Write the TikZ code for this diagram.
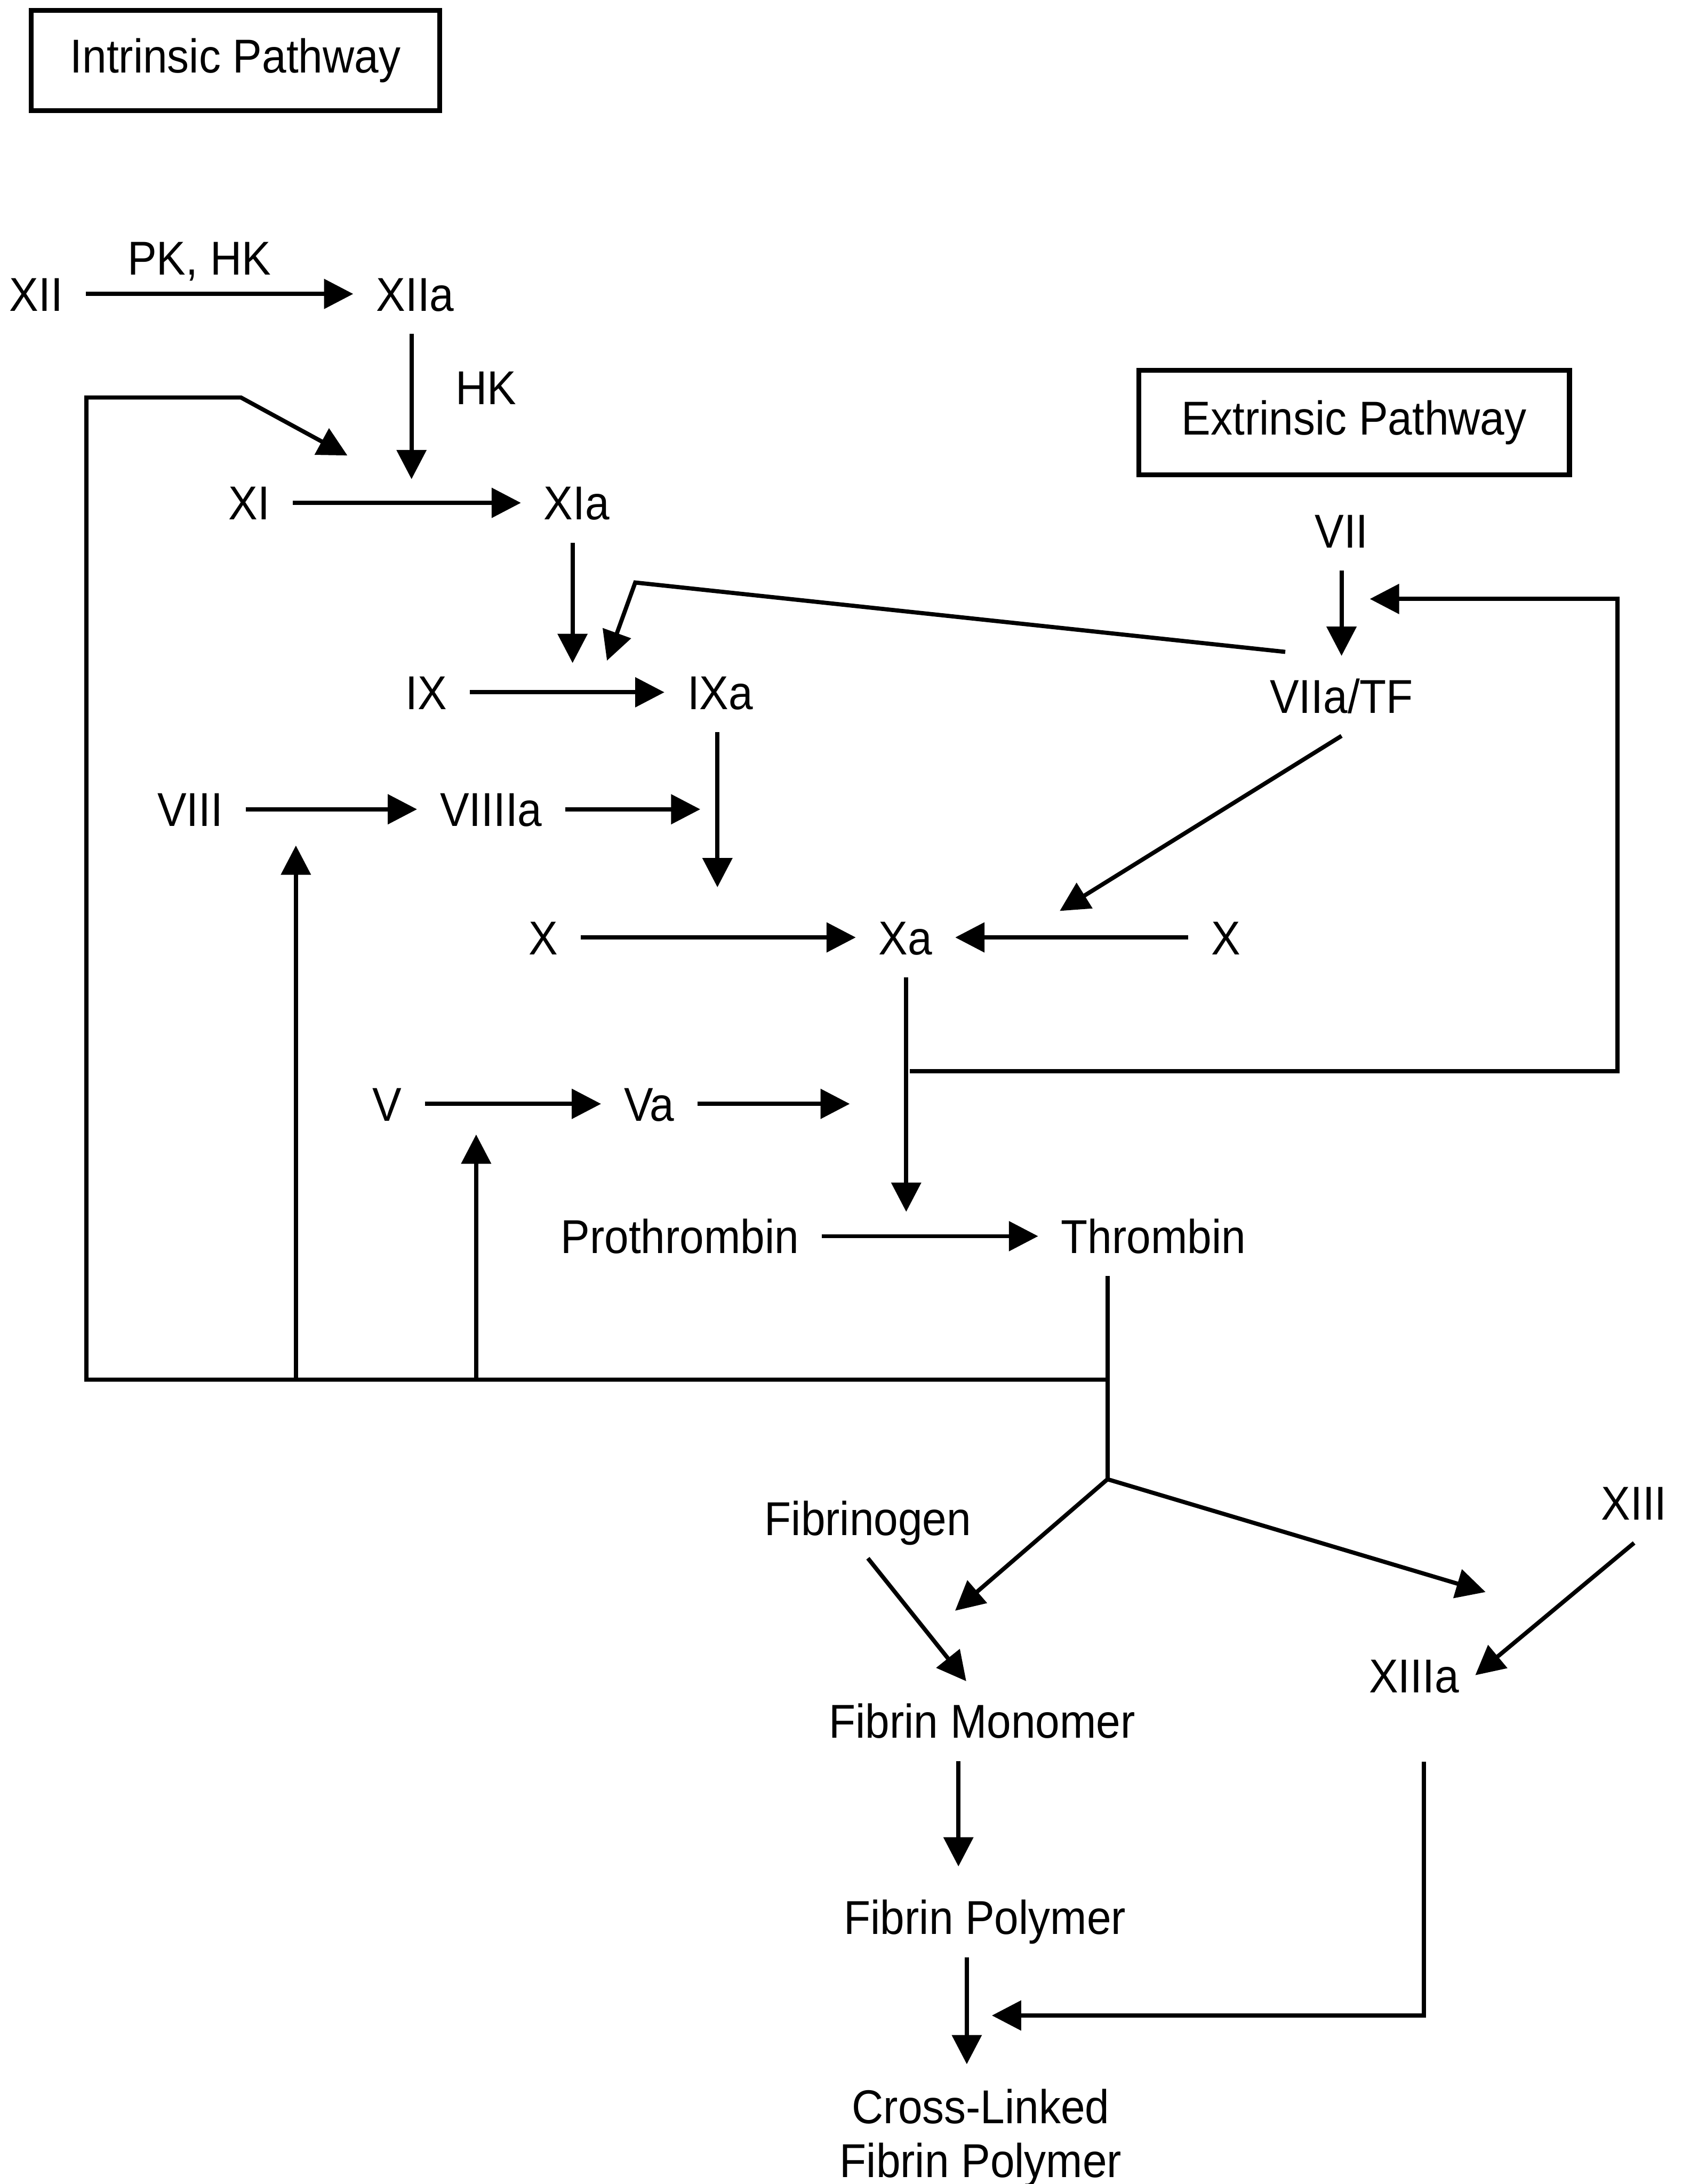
\documentclass[tikz,border=0pt]{standalone}
\usepackage{fontspec}
\setmainfont{Liberation Sans}[FakeStretch=0.92]
\usetikzlibrary{arrows.meta}

\begin{document}
\begin{tikzpicture}[x=0.01cm,y=-0.01cm,line width=0.85pt,
  >={Triangle[length=0.21cm,width=0.21cm]},
  txt/.style={inner sep=0.15cm,font=\fontsize{9.7}{11}\selectfont},
  fac/.style={txt,text height=6.95pt,text depth=0pt},
  pathbox/.style={txt,draw,line width=1pt}]
  \useasboundingbox (0,0) rectangle (1213,1568);

  \node[pathbox,minimum width=2.93cm,minimum height=0.72cm] (intr) at (169,43.5) {Intrinsic Pathway};
  \node[pathbox,minimum width=3.09cm,minimum height=0.75cm] (extr) at (972,303.5) {Extrinsic Pathway};

  \node[fac] (xii) at (26,211) {XII};
  \node[fac] (xiia) at (298,211) {XIIa};
  \node[fac] (pkhk) at (143,185) {PK, HK};
  \node[fac] (hk) at (349,278) {HK};
  \node[fac] (xi) at (179,361) {XI};
  \node[fac] (xia) at (414,361) {XIa};
  \node[fac] (vii) at (963,381) {VII};
  \node[fac] (ix) at (306,497) {IX};
  \node[fac] (ixa) at (517,497) {IXa};
  \node[fac] (viiatf) at (963,499.6) {VIIa/TF};
  \node[fac] (viii) at (136.5,581) {VIII};
  \node[fac] (viiiia) at (352.5,581) {VIIIIa};
  \node[fac] (xl) at (390,673) {X};
  \node[fac] (xa) at (650,673) {Xa};
  \node[fac] (xr) at (880,673) {X};
  \node[fac] (v) at (278,792.5) {V};
  \node[fac] (va) at (466,792.5) {Va};
  \node[fac] (proth) at (488,887.5) {Prothrombin};
  \node[fac] (thromb) at (828,887.5) {Thrombin};
  \node[fac] (fibgen) at (623,1090) {Fibrinogen};
  \node[fac] (xiii) at (1173,1079) {XIII};
  \node[fac] (xiiia) at (1015,1203) {XIIIa};
  \node[fac] (fmono) at (705,1235.6) {Fibrin Monomer};
  \node[fac] (fpoly) at (707,1376.5) {Fibrin Polymer};
  \node[txt,align=center] (cross) at (704,1535) {Cross-Linked\\Fibrin Polymer};

  \coordinate (hkT) at (295.4,344);
  \coordinate (xiT) at (249.4,327);
  \coordinate (fbJ) at (795,990.5);
  \coordinate (fbL) at (62,990.5);
  \coordinate (fbK) at (173,285.4);
  \coordinate (ixT) at (411,476);
  \coordinate (vtS) at (922.6,468);
  \coordinate (vtK) at (456,418.2);
  \coordinate (ixT2) at (435.7,474.3);
  \coordinate (xT) at (515,637);
  \coordinate (viiiE) at (502.7,581);
  \coordinate (xaT) at (760.7,654);
  \coordinate (lpS) at (653,769);
  \coordinate (lpC) at (1161,769);
  \coordinate (lpT) at (983.3,430);
  \coordinate (thT) at (650.5,870);
  \coordinate (vaE) at (610,792.5);
  \coordinate (viiiU) at (212.4,607);
  \coordinate (vU) at (341.8,814.5);
  \coordinate (brP) at (795,1062);
  \coordinate (fmT) at (685.6,1156.4);
  \coordinate (xiiiaT) at (1066.4,1143);
  \coordinate (fmT2) at (693.6,1207);
  \coordinate (xiiiaT2) at (1059,1202.7);
  \coordinate (fpT) at (688,1340);
  \coordinate (crT) at (694,1482);
  \coordinate (xlC) at (1022,1447);
  \coordinate (crT2) at (712,1447);

  \foreach \a/\b in {xii/xiia,xi/xia,ix/ixa,viii/viiiia,xl/xa,xr/xa,v/va,proth/thromb,vii/viiatf}
    \draw[->] (\a) -- (\b);
  \draw[->] (xiia.south -| hkT) -- (hkT);
  \draw[->] (xia.south -| ixT) -- (ixT);
  \draw[->] (ixa.south -| xT) -- (xT);
  \draw[->] (xa.south -| thT) -- (thT);
  \draw[->] (viiiia) -- (viiiE);
  \draw[->] (va) -- (vaE);
  \draw[->] (viiatf.south) -- (xaT);
  \draw[->] (vtS) -- (vtK) -- (ixT2);
  \draw[->] (lpS) -- (lpC) |- (lpT);
  \draw[->] (fbJ) -- (fbL) |- (fbK) -- (xiT);
  \draw[->] (viiiU |- fbL) -- (viiiU);
  \draw[->] (vU |- fbL) -- (vU);
  \draw (thromb.south -| brP) -- (brP);
  \draw[->] (brP) -- (fmT);
  \draw[->] (brP) -- (xiiiaT);
  \draw[->] (fibgen.south) -- (fmT2);
  \draw[->] (xiii.south) -- (xiiiaT2);
  \draw[->] (fmono.south -| fpT) -- (fpT);
  \draw[->] (fpoly.south -| crT) -- (crT);
  \draw[->,shorten <=0.33cm] (xiiia.south -| xlC) -- (xlC) -- (crT2);
\end{tikzpicture}
\end{document}
